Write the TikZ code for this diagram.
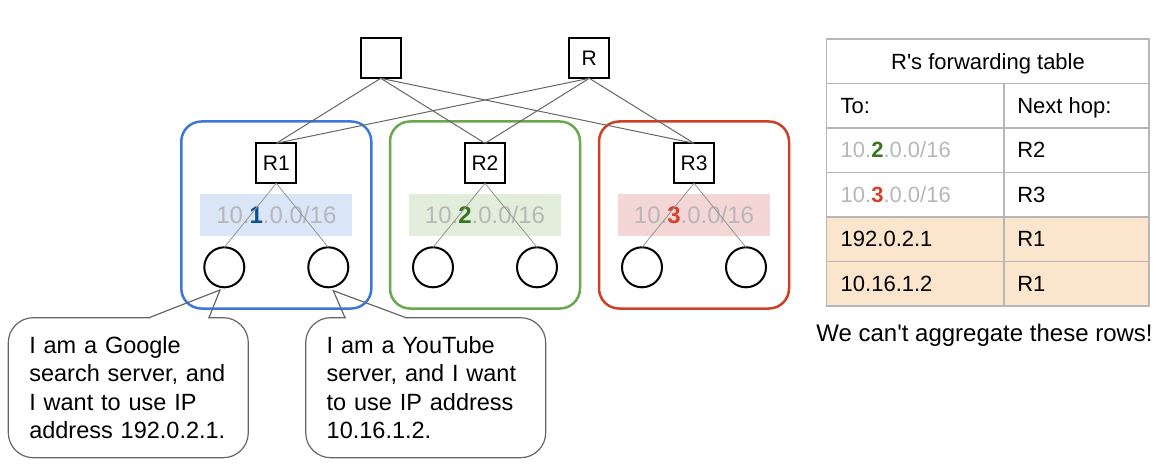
\documentclass[tikz,border=0pt]{standalone}
\usepackage{fontspec}
\setmainfont{Liberation Sans}
\usetikzlibrary{calc}
\definecolor{cblue}{HTML}{3C78D8}
\definecolor{cgreen}{HTML}{6AA84F}
\definecolor{cred}{HTML}{CC4125}
\definecolor{bblue}{HTML}{DAE5F8}
\definecolor{bgreen}{HTML}{E2EEDB}
\definecolor{bred}{HTML}{F5D6D6}
\definecolor{dblue}{HTML}{0B5394}
\definecolor{dgreen}{HTML}{38761D}
\definecolor{dred}{HTML}{D4422A}
\definecolor{pfx}{HTML}{B7B7B7}
\definecolor{peach}{HTML}{FCE5CD}
\definecolor{rule}{HTML}{B7B7B7}
\definecolor{link}{HTML}{666666}
\newcommand{\pfxtext}[2]{\textcolor{pfx}{10.\textbf{\textcolor{#2}{#1}}.0.0/16}}
\begin{document}
\begin{tikzpicture}[x=1pt, y=-1pt, every node/.style={inner sep=0, outer sep=0},
	router/.style={draw, line width=2, minimum size=40, font=\fontsize{21}{21}\selectfont, text height=15, text depth=0},
	host/.style={draw, circle, line width=2, minimum size=40},
	cluster/.style={draw=#1, rounded corners=20, line width=2.5, minimum width=190, minimum height=187},
	prefix/.style={fill=#1, minimum width=152, minimum height=42, font=\fontsize{24}{24}\selectfont, text height=17, text depth=0},
	uplink/.style={draw=link, line width=1},
	downlink/.style={draw=link!70, line width=0.8},
	balloon/.style={draw=link, line width=1.2, rounded corners=25, fill=white, anchor=north west, minimum width=240, minimum height=140, text width=198, inner xsep=21, align=left, font=\fontsize{23.5}{28.3}\selectfont},
	cell/.style={anchor=west, font=\fontsize{22}{22}\selectfont, text height=16, text depth=0}]
		\useasboundingbox (0,0) rectangle (1166,468);
		\node[router] (top) at (380.7,58.3) {};
		\node[router] (R) at (589.3,58.3) {R};
		\foreach \i/\c/\x in {1/blue/276.3, 2/green/485, 3/red/694}{
			\node[cluster=c\c] (c\i) at (\x,215) {};
			\node[router] (r\i) at (\x,163.3) {R\i};
			\node[prefix=b\c] (p\i) at (\x,215) {\pfxtext{\i}{d\c}};
			\node[host] (h\i1) at (\x-52,267.3) {};
			\node[host] (h\i2) at (\x+52,267.3) {};
			\draw[downlink] (r\i.south) -- (h\i1.north) (r\i.south) -- (h\i2.north);
			\draw[uplink] (top.south) -- (r\i.north) (R.south) -- (r\i.north);
		}
		\node[balloon] (gsay) at (8.3,317.7) {I am a Google\\search server, and\\I want to use IP\\address 192.0.2.1.};
		\node[balloon] (ysay) at (305.7,317.7) {I am a YouTube\\server, and I want\\to use IP address\\10.16.1.2.};
		\coordinate (gtip) at (220,290);
		\coordinate (ytip) at (333.3,290.7);
		\fill[white] ($(gsay.north west)+(141.7,-1.5)$) rectangle ($(gsay.north west)+(199.7,1.5)$);
		\fill[white] ($(ysay.north west)+(40.3,-1.5)$) rectangle ($(ysay.north west)+(99.3,1.5)$);
		\draw[link, line width=1.2] ($(gsay.north west)+(140.7,0)$) -- (gtip) -- ($(gsay.north west)+(200.7,0)$);
		\draw[link, line width=1.2] ($(ysay.north west)+(39.3,0)$) -- (ytip) -- ($(ysay.north west)+(100.3,0)$);
		\fill[peach] (826.7,217) rectangle (1149,306);
		\draw[rule, line width=1.5] (826.7,39) rectangle (1149,306);
		\foreach \y in {83.5,128,172.5,217,261.5} \draw[rule, line width=1.5] (826.7,\y) -- (1149,\y);
		\draw[rule, line width=1.5] (1004,83.5) -- (1004,306);
		\node[cell, anchor=center] (title) at (988,61.2) {R\textquotesingle s forwarding table};
		\node[cell] (to) at (840.7,105.2) {To:};
		\node[cell] (hop) at (1017.3,105.2) {Next hop:};
		\node[cell] (d2) at (840.7,149.7) {\pfxtext{2}{dgreen}};
		\node[cell] (n2) at (1017.3,149.7) {R2};
		\node[cell] (d3) at (840.7,194.2) {\pfxtext{3}{dred}};
		\node[cell] (n3) at (1017.3,194.2) {R3};
		\node[cell] (d4) at (840.7,238.7) {192.0.2.1};
		\node[cell] (n4) at (1017.3,238.7) {R1};
		\node[cell] (d5) at (840.7,283.2) {10.16.1.2};
		\node[cell] (n5) at (1017.3,283.2) {R1};
		\node[font=\fontsize{24}{24}\selectfont, text height=17, text depth=0] (note) at (984.5,333.3) {We can\textquotesingle t aggregate these rows!};
\end{tikzpicture}
\end{document}
